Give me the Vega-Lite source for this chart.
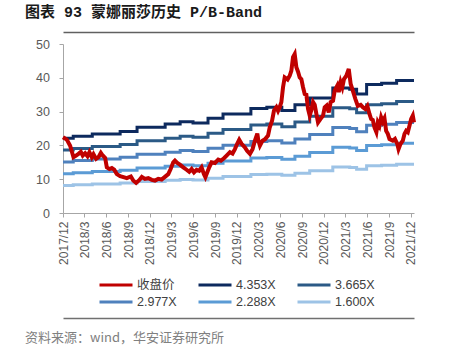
{
  "$schema": "https://vega.github.io/schema/vega-lite/v6.json",
  "background": "white",
  "padding": {"left": 0, "top": 5, "right": 0, "bottom": 0},
  "columns": 1,
  "align": "none",
  "spacing": 0,
  "config": {"view": {"stroke": null}, "font": "Liberation Sans"},
  "datasets": {
    "bands": [
      {"d":"2017-12-01","s":"4.353X","v":22.1},{"d":"2018-01-13","s":"4.353X","v":22.7},{"d":"2018-04-03","s":"4.353X","v":23.4},{"d":"2018-07-29","s":"4.353X","v":24.1},{"d":"2018-10-08","s":"4.353X","v":25.4},{"d":"2019-02-03","s":"4.353X","v":26.3},{"d":"2019-04-07","s":"4.353X","v":27.0},{"d":"2019-05-31","s":"4.353X","v":26.6},{"d":"2019-08-02","s":"4.353X","v":28.0},{"d":"2019-10-04","s":"4.353X","v":29.3},{"d":"2020-01-29","s":"4.353X","v":30.9},{"d":"2020-04-05","s":"4.353X","v":31.3},{"d":"2020-06-07","s":"4.353X","v":30.3},{"d":"2020-08-01","s":"4.353X","v":32.0},{"d":"2020-10-02","s":"4.353X","v":34.0},{"d":"2021-01-07","s":"4.353X","v":37.0},{"d":"2021-03-19","s":"4.353X","v":36.6},{"d":"2021-04-17","s":"4.353X","v":35.2},{"d":"2021-05-29","s":"4.353X","v":38.0},{"d":"2021-07-31","s":"4.353X","v":38.4},{"d":"2021-10-02","s":"4.353X","v":39.2},{"d":"2021-12-14","s":"4.353X","v":39.2},
      {"d":"2017-12-01","s":"3.665X","v":18.61},{"d":"2018-01-13","s":"3.665X","v":19.11},{"d":"2018-04-03","s":"3.665X","v":19.70},{"d":"2018-07-29","s":"3.665X","v":20.29},{"d":"2018-10-08","s":"3.665X","v":21.39},{"d":"2019-02-03","s":"3.665X","v":22.14},{"d":"2019-04-07","s":"3.665X","v":22.73},{"d":"2019-05-31","s":"3.665X","v":22.40},{"d":"2019-08-02","s":"3.665X","v":23.57},{"d":"2019-10-04","s":"3.665X","v":24.67},{"d":"2020-01-29","s":"3.665X","v":26.02},{"d":"2020-04-05","s":"3.665X","v":26.35},{"d":"2020-06-07","s":"3.665X","v":25.51},{"d":"2020-08-01","s":"3.665X","v":26.94},{"d":"2020-10-02","s":"3.665X","v":28.63},{"d":"2021-01-07","s":"3.665X","v":31.15},{"d":"2021-03-19","s":"3.665X","v":30.82},{"d":"2021-04-17","s":"3.665X","v":29.64},{"d":"2021-05-29","s":"3.665X","v":32.00},{"d":"2021-07-31","s":"3.665X","v":32.33},{"d":"2021-10-02","s":"3.665X","v":33.00},{"d":"2021-12-14","s":"3.665X","v":33.00},
      {"d":"2017-12-01","s":"2.977X","v":15.11},{"d":"2018-01-13","s":"2.977X","v":15.53},{"d":"2018-04-03","s":"2.977X","v":16.00},{"d":"2018-07-29","s":"2.977X","v":16.48},{"d":"2018-10-08","s":"2.977X","v":17.37},{"d":"2019-02-03","s":"2.977X","v":17.99},{"d":"2019-04-07","s":"2.977X","v":18.47},{"d":"2019-05-31","s":"2.977X","v":18.19},{"d":"2019-08-02","s":"2.977X","v":19.15},{"d":"2019-10-04","s":"2.977X","v":20.04},{"d":"2020-01-29","s":"2.977X","v":21.13},{"d":"2020-04-05","s":"2.977X","v":21.41},{"d":"2020-06-07","s":"2.977X","v":20.72},{"d":"2020-08-01","s":"2.977X","v":21.88},{"d":"2020-10-02","s":"2.977X","v":23.25},{"d":"2021-01-07","s":"2.977X","v":25.31},{"d":"2021-03-19","s":"2.977X","v":25.03},{"d":"2021-04-17","s":"2.977X","v":24.07},{"d":"2021-05-29","s":"2.977X","v":25.99},{"d":"2021-07-31","s":"2.977X","v":26.26},{"d":"2021-10-02","s":"2.977X","v":26.81},{"d":"2021-12-14","s":"2.977X","v":26.81},
      {"d":"2017-12-01","s":"2.288X","v":11.62},{"d":"2018-01-13","s":"2.288X","v":11.93},{"d":"2018-04-03","s":"2.288X","v":12.30},{"d":"2018-07-29","s":"2.288X","v":12.67},{"d":"2018-10-08","s":"2.288X","v":13.35},{"d":"2019-02-03","s":"2.288X","v":13.82},{"d":"2019-04-07","s":"2.288X","v":14.19},{"d":"2019-05-31","s":"2.288X","v":13.98},{"d":"2019-08-02","s":"2.288X","v":14.72},{"d":"2019-10-04","s":"2.288X","v":15.40},{"d":"2020-01-29","s":"2.288X","v":16.24},{"d":"2020-04-05","s":"2.288X","v":16.45},{"d":"2020-06-07","s":"2.288X","v":15.93},{"d":"2020-08-01","s":"2.288X","v":16.82},{"d":"2020-10-02","s":"2.288X","v":17.87},{"d":"2021-01-07","s":"2.288X","v":19.45},{"d":"2021-03-19","s":"2.288X","v":19.24},{"d":"2021-04-17","s":"2.288X","v":18.50},{"d":"2021-05-29","s":"2.288X","v":19.97},{"d":"2021-07-31","s":"2.288X","v":20.18},{"d":"2021-10-02","s":"2.288X","v":20.60},{"d":"2021-12-14","s":"2.288X","v":20.60},
      {"d":"2017-12-01","s":"1.600X","v":8.12},{"d":"2018-01-13","s":"1.600X","v":8.34},{"d":"2018-04-03","s":"1.600X","v":8.60},{"d":"2018-07-29","s":"1.600X","v":8.86},{"d":"2018-10-08","s":"1.600X","v":9.34},{"d":"2019-02-03","s":"1.600X","v":9.67},{"d":"2019-04-07","s":"1.600X","v":9.93},{"d":"2019-05-31","s":"1.600X","v":9.78},{"d":"2019-08-02","s":"1.600X","v":10.29},{"d":"2019-10-04","s":"1.600X","v":10.77},{"d":"2020-01-29","s":"1.600X","v":11.36},{"d":"2020-04-05","s":"1.600X","v":11.50},{"d":"2020-06-07","s":"1.600X","v":11.14},{"d":"2020-08-01","s":"1.600X","v":11.76},{"d":"2020-10-02","s":"1.600X","v":12.50},{"d":"2021-01-07","s":"1.600X","v":13.60},{"d":"2021-03-19","s":"1.600X","v":13.45},{"d":"2021-04-17","s":"1.600X","v":12.94},{"d":"2021-05-29","s":"1.600X","v":13.97},{"d":"2021-07-31","s":"1.600X","v":14.11},{"d":"2021-10-02","s":"1.600X","v":14.41},{"d":"2021-12-14","s":"1.600X","v":14.41}
    ],
    "price": [
      {"d":"2017-12-01","v":22.4},{"d":"2017-12-17","v":21.7},{"d":"2017-12-31","v":19.9},{"d":"2018-01-14","v":16.5},{"d":"2018-01-25","v":17.0},{"d":"2018-02-04","v":17.5},{"d":"2018-02-14","v":18.1},{"d":"2018-02-22","v":17.0},{"d":"2018-03-04","v":17.7},{"d":"2018-03-14","v":16.8},{"d":"2018-03-22","v":18.0},{"d":"2018-04-01","v":16.5},{"d":"2018-04-08","v":17.4},{"d":"2018-04-19","v":16.0},{"d":"2018-04-29","v":16.5},{"d":"2018-05-09","v":17.8},{"d":"2018-05-17","v":17.0},{"d":"2018-05-27","v":16.3},{"d":"2018-06-03","v":13.5},{"d":"2018-06-14","v":13.0},{"d":"2018-06-24","v":13.3},{"d":"2018-07-04","v":12.8},{"d":"2018-07-15","v":11.5},{"d":"2018-07-29","v":10.9},{"d":"2018-08-12","v":10.6},{"d":"2018-08-26","v":10.3},{"d":"2018-09-12","v":10.8},{"d":"2018-09-22","v":9.6},{"d":"2018-10-04","v":8.9},{"d":"2018-10-18","v":9.8},{"d":"2018-10-28","v":10.7},{"d":"2018-11-10","v":10.1},{"d":"2018-11-24","v":10.3},{"d":"2018-12-09","v":9.8},{"d":"2018-12-22","v":9.6},{"d":"2019-01-05","v":10.1},{"d":"2019-01-19","v":9.9},{"d":"2019-02-02","v":10.7},{"d":"2019-02-16","v":11.5},{"d":"2019-02-26","v":13.0},{"d":"2019-03-09","v":15.0},{"d":"2019-03-16","v":15.5},{"d":"2019-03-26","v":14.8},{"d":"2019-04-06","v":14.3},{"d":"2019-04-20","v":13.5},{"d":"2019-05-04","v":12.8},{"d":"2019-05-15","v":12.2},{"d":"2019-05-25","v":13.0},{"d":"2019-06-04","v":12.0},{"d":"2019-06-15","v":12.8},{"d":"2019-06-26","v":12.5},{"d":"2019-07-06","v":13.5},{"d":"2019-07-16","v":11.5},{"d":"2019-07-22","v":10.6},{"d":"2019-08-07","v":13.5},{"d":"2019-08-17","v":15.0},{"d":"2019-08-31","v":14.8},{"d":"2019-09-14","v":15.8},{"d":"2019-09-25","v":15.5},{"d":"2019-10-08","v":16.2},{"d":"2019-10-19","v":17.0},{"d":"2019-11-02","v":18.0},{"d":"2019-11-13","v":17.6},{"d":"2019-11-23","v":18.9},{"d":"2019-12-02","v":20.4},{"d":"2019-12-11","v":21.7},{"d":"2019-12-21","v":20.5},{"d":"2020-01-04","v":19.4},{"d":"2020-01-13","v":18.4},{"d":"2020-01-25","v":17.5},{"d":"2020-02-05","v":18.9},{"d":"2020-02-15","v":21.4},{"d":"2020-02-25","v":23.5},{"d":"2020-02-29","v":21.6},{"d":"2020-03-07","v":19.9},{"d":"2020-03-18","v":21.4},{"d":"2020-03-28","v":21.8},{"d":"2020-04-10","v":22.9},{"d":"2020-04-17","v":25.3},{"d":"2020-04-27","v":27.3},{"d":"2020-05-05","v":30.3},{"d":"2020-05-15","v":31.3},{"d":"2020-05-22","v":30.2},{"d":"2020-05-29","v":31.3},{"d":"2020-06-05","v":32.8},{"d":"2020-06-12","v":37.2},{"d":"2020-06-19","v":40.1},{"d":"2020-07-01","v":39.5},{"d":"2020-07-10","v":40.6},{"d":"2020-07-17","v":42.1},{"d":"2020-07-24","v":46.1},{"d":"2020-07-31","v":47.0},{"d":"2020-08-07","v":43.1},{"d":"2020-08-14","v":41.8},{"d":"2020-08-21","v":40.1},{"d":"2020-08-28","v":39.6},{"d":"2020-09-04","v":37.2},{"d":"2020-09-11","v":35.2},{"d":"2020-09-18","v":35.0},{"d":"2020-09-25","v":30.8},{"d":"2020-10-02","v":28.8},{"d":"2020-10-09","v":30.5},{"d":"2020-10-16","v":32.8},{"d":"2020-10-23","v":32.0},{"d":"2020-10-30","v":29.3},{"d":"2020-11-06","v":26.8},{"d":"2020-11-16","v":27.8},{"d":"2020-11-27","v":28.8},{"d":"2020-12-04","v":31.3},{"d":"2020-12-12","v":31.8},{"d":"2020-12-21","v":29.8},{"d":"2020-12-29","v":32.8},{"d":"2021-01-08","v":33.2},{"d":"2021-01-15","v":36.2},{"d":"2021-01-26","v":37.7},{"d":"2021-02-01","v":35.8},{"d":"2021-02-09","v":38.7},{"d":"2021-02-16","v":37.2},{"d":"2021-02-23","v":39.6},{"d":"2021-03-05","v":40.6},{"d":"2021-03-15","v":42.6},{"d":"2021-03-23","v":38.2},{"d":"2021-04-01","v":36.2},{"d":"2021-04-12","v":33.7},{"d":"2021-04-22","v":31.7},{"d":"2021-05-04","v":32.0},{"d":"2021-05-13","v":31.3},{"d":"2021-05-23","v":30.8},{"d":"2021-06-01","v":31.7},{"d":"2021-06-10","v":29.3},{"d":"2021-06-17","v":27.8},{"d":"2021-06-24","v":27.5},{"d":"2021-07-01","v":25.3},{"d":"2021-07-09","v":23.9},{"d":"2021-07-15","v":26.8},{"d":"2021-07-22","v":25.8},{"d":"2021-07-29","v":28.3},{"d":"2021-08-05","v":27.0},{"d":"2021-08-12","v":28.0},{"d":"2021-08-19","v":24.3},{"d":"2021-08-26","v":23.4},{"d":"2021-09-02","v":21.9},{"d":"2021-09-16","v":21.4},{"d":"2021-09-25","v":21.9},{"d":"2021-10-05","v":20.4},{"d":"2021-10-10","v":18.9},{"d":"2021-10-18","v":20.4},{"d":"2021-10-28","v":21.4},{"d":"2021-11-04","v":23.4},{"d":"2021-11-11","v":24.3},{"d":"2021-11-18","v":23.9},{"d":"2021-11-25","v":25.8},{"d":"2021-12-02","v":27.8},{"d":"2021-12-09","v":28.8},{"d":"2021-12-14","v":26.8}
    ]
  },
  "concat": [
    {
      "width": 377,
      "height": 1,
      "data": {"values": []},
      "mark": "point",
      "title": {"text": "图表 93 蒙娜丽莎历史 P/B-Band", "anchor": "start", "frame": "group", "dx": -38, "offset": -4, "baseline": "bottom", "font": "Liberation Mono, Noto Sans CJK SC", "fontSize": 15, "fontWeight": "bold", "color": "#1a1a1a"}
    },
    {
      "width": 351,
      "height": 169,
      "resolve": {"axis": {"x": "independent"}},
      "encoding": {
        "y": {
          "field": "v", "type": "quantitative",
          "scale": {"domain": [0, 50]},
          "axis": {
            "title": null,
            "values": [0, 10, 20, 30, 40, 50],
            "labelFont": "Liberation Sans",
            "labelFontSize": 12.5,
            "labelColor": "#595959",
            "labelPadding": 9.5,
            "tickSize": 4,
            "tickColor": "#a6a6a6",
            "domainColor": "#a6a6a6",
            "grid": false,
            "minExtent": 63,
            "maxExtent": 63
          }
        }
      },
      "layer": [
        {
          "data": {"name": "bands"},
          "mark": {"type": "line", "strokeWidth": 3, "interpolate": "step-after"},
          "encoding": {
            "x": {
              "field": "d", "type": "temporal",
              "scale": {"domain": [{"year": 2017, "month": 12, "date": 1}, {"year": 2021, "month": 12, "date": 14}]},
              "axis": {
                "orient": "bottom",
                "title": null,
                "values": [
                  {"year": 2017, "month": 12, "date": 1}, {"year": 2018, "month": 3, "date": 1}, {"year": 2018, "month": 6, "date": 1}, {"year": 2018, "month": 9, "date": 1},
                  {"year": 2018, "month": 12, "date": 1}, {"year": 2019, "month": 3, "date": 1}, {"year": 2019, "month": 6, "date": 1}, {"year": 2019, "month": 9, "date": 1},
                  {"year": 2019, "month": 12, "date": 1}, {"year": 2020, "month": 3, "date": 1}, {"year": 2020, "month": 6, "date": 1}, {"year": 2020, "month": 9, "date": 1},
                  {"year": 2020, "month": 12, "date": 1}, {"year": 2021, "month": 3, "date": 1}, {"year": 2021, "month": 6, "date": 1}, {"year": 2021, "month": 9, "date": 1},
                  {"year": 2021, "month": 12, "date": 1}
                ],
                "format": "%Y/%-m",
                "labelAngle": 270,
                "labelFont": "Liberation Sans",
                "labelFontSize": 12,
                "labelColor": "#595959",
                "labelPadding": 4,
                "labelOverlap": false,
                "labelFlush": false,
                "labelBound": false,
                "tickSize": 4,
                "tickColor": "#a6a6a6",
                "domainColor": "#a6a6a6",
                "grid": false
              }
            },
            "color": {
              "field": "s", "type": "nominal",
              "scale": {"domain": ["收盘价", "4.353X", "3.665X", "2.977X", "2.288X", "1.600X"], "range": ["#c00000", "#0d2a5e", "#2b5a86", "#4f81bd", "#5b9bd5", "#9dc3e6"]},
              "legend": {
                "orient": "none", "legendX": 35, "legendY": 246,
                "direction": "horizontal", "columns": 3, "title": null,
                "symbolType": "stroke", "symbolSize": 1089, "symbolStrokeWidth": 3,
                "labelFont": "Liberation Sans, Noto Sans CJK SC", "labelFontSize": 12.5, "labelColor": "#404040",
                "labelOffset": 3, "columnPadding": 20, "rowPadding": 1, "clipHeight": 16, "padding": 0, "labelLimit": 100
              }
            }
          }
        },
        {
          "data": {"name": "price"},
          "mark": {"type": "line", "strokeWidth": 4},
          "encoding": {
            "x": {
              "field": "d", "type": "temporal",
              "axis": {"orient": "top", "offset": 12, "labels": false, "ticks": false, "grid": false, "title": null, "domain": true, "domainColor": "#606060", "domainWidth": 1.5, "domainOpacity": 1, "minExtent": 0, "maxExtent": 0}
            },
            "color": {
              "datum": "收盘价",
              "scale": {"domain": ["收盘价", "4.353X", "3.665X", "2.977X", "2.288X", "1.600X"], "range": ["#c00000", "#0d2a5e", "#2b5a86", "#4f81bd", "#5b9bd5", "#9dc3e6"]}
            }
          }
        },
        {
          "data": {"values": []},
          "mark": {"type": "line"},
          "encoding": {
            "x": {
              "field": "d", "type": "temporal",
              "axis": {"orient": "bottom", "offset": 105, "labels": false, "ticks": false, "grid": false, "title": null, "domain": true, "domainColor": "#707070", "domainWidth": 1.5, "domainOpacity": 1, "minExtent": 0, "maxExtent": 0}
            }
          }
        },
        {
          "data": {"values": [{}]},
          "mark": {"type": "rule", "clip": false, "color": "#666666", "strokeWidth": 1.3},
          "encoding": {
            "y": {"datum": 53.55}
          }
        },
        {
          "data": {"values": [{}]},
          "mark": {"type": "rule", "clip": false, "color": "#808080", "strokeWidth": 1.3},
          "encoding": {
            "y": {"datum": -31.07}
          }
        }
      ]
    },
    {
      "width": 377,
      "height": 1,
      "data": {"values": []},
      "mark": "point",
      "title": {"text": "资料来源：wind，华安证券研究所", "orient": "bottom", "anchor": "start", "frame": "group", "dx": -38, "offset": 13, "baseline": "top", "font": "Noto Sans CJK SC", "fontSize": 13, "fontWeight": "normal", "color": "#808080"}
    }
  ]
}
